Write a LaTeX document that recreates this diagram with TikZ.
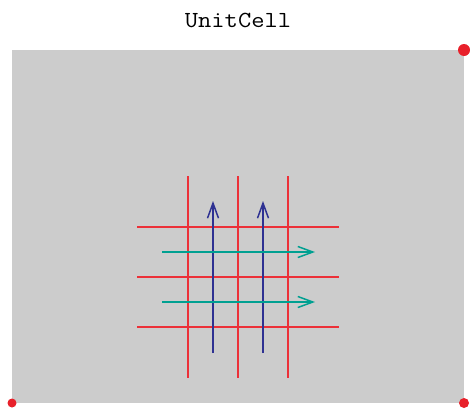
\documentclass[tikz,border=0pt]{standalone}
\usepackage{xcolor}
\usepackage{tikz}
\usetikzlibrary{arrows.meta,positioning}
\definecolor{cellgray}{HTML}{CCCCCC}
\definecolor{gridred}{HTML}{EC3038}
\definecolor{dotred}{HTML}{E8202A}
\definecolor{upblue}{HTML}{2E3192}
\definecolor{rightteal}{HTML}{00A091}
\tikzset{
  cellbox/.style={fill=cellgray, draw=none},
  gridline/.style={draw=gridred, line width=1.5pt},
  uparr/.style={draw=upblue, line width=1.5pt, -{Straight Barb[length=15pt,width=11pt]}},
  rightarr/.style={draw=rightteal, line width=1.5pt, -{Straight Barb[length=15pt,width=11pt]}},
  corner/.style={fill=dotred, draw=none}
}
\begin{document}
\begin{tikzpicture}[x=1pt,y=-1pt]
\useasboundingbox (0,0) rectangle (470,410);
\node[font=\ttfamily\fontsize{23}{25}\selectfont, xscale=1.12] (title) at (238,20) {UnitCell};
\path[cellbox] (12,50) rectangle (464,403);
% grid lines
\foreach \gx in {188,238,288} \draw[gridline] (\gx,176) -- (\gx,378);
\foreach \gy in {227,277,327} \draw[gridline] (137,\gy) -- (339,\gy);
% arrows
\foreach \ax in {213,263} {
  \coordinate (up0) at (\ax,353);
  \coordinate (up1) at (\ax,201);
  \draw[uparr] (up0) -- (up1);
}
\foreach \ay in {252,302} {
  \coordinate (rt0) at (162,\ay);
  \coordinate (rt1) at (315,\ay);
  \draw[rightarr] (rt0) -- (rt1);
}
% corner points
\fill[corner] (464,50) circle (6);
\fill[corner] (12,403) circle (4.5);
\fill[corner] (464,403) circle (5);
\end{tikzpicture}
\end{document}
